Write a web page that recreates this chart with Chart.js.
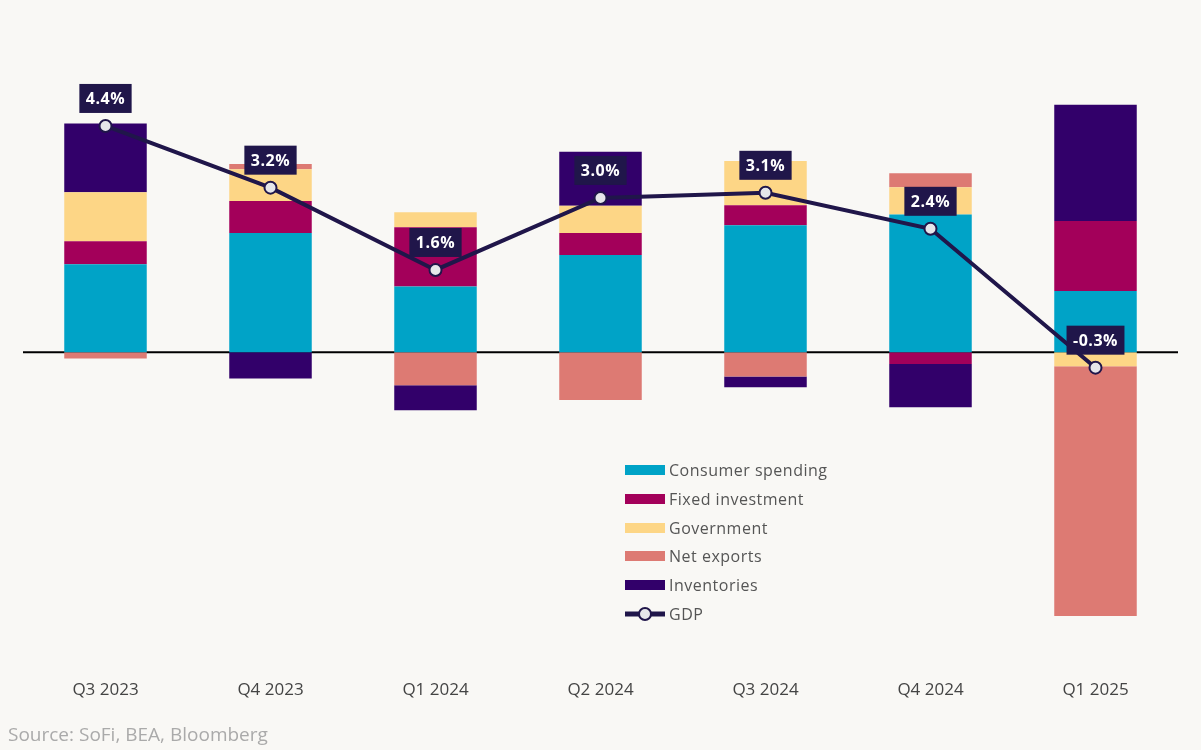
<!DOCTYPE html>
<html>
<head>
<meta charset="utf-8">
<script src="https://cdn.jsdelivr.net/npm/chart.js@4.4.1/dist/chart.umd.min.js"></script>
<style>
  body { margin: 0; background: #f9f8f5; font-family: "Open Sans", sans-serif; }
  #wrap { position: relative; width: 1201px; height: 750px; }
  #legend { position: absolute; left: 625px; top: 456px; font-size: 16px; color: #555; letter-spacing: 0.5px; }
  #legend div { height: 28.7px; display: flex; align-items: center; }
  #legend .box { width: 40px; height: 10px; margin-right: 4px; }
  #source { position: absolute; left: 8px; top: 721px; font-size: 19px; color: #aaa; }
</style>
</head>
<body>
<div id="wrap">
  <canvas id="myChart" width="1201" height="750"></canvas>
  <div id="legend"></div>
  <div id="source">Source: SoFi, BEA, Bloomberg</div>
</div>
<script>
const quarters = ['Q3 2023', 'Q4 2023', 'Q1 2024', 'Q2 2024', 'Q3 2024', 'Q4 2024', 'Q1 2025']
const consumer = [1.71, 2.32, 1.28, 1.89, 2.47, 2.68, 1.19]
const fixedInv = [0.45, 0.62, 1.15, 0.43, 0.39, -0.23, 1.36]
const government = [0.95, 0.62, 0.29, 0.53, 0.86, 0.53, -0.27]
const netExports = [-0.12, 0.10, -0.64, -0.93, -0.47, 0.27, -4.86]
const inventories = [1.34, -0.51, -0.49, 1.05, -0.21, -0.84, 2.26]
const gdp = [4.4, 3.2, 1.6, 3.0, 3.1, 2.4, -0.3]

const navy = '#20164a'
const series = [
    { label: 'Consumer spending', data: consumer, color: '#00a3c7' },
    { label: 'Fixed investment', data: fixedInv, color: '#a3005a' },
    { label: 'Government', data: government, color: '#fdd686' },
    { label: 'Net exports', data: netExports, color: '#dd7a73' },
    { label: 'Inventories', data: inventories, color: '#32006a' }
]

// legend as html
const legend = document.getElementById('legend')
series.forEach(s => {
    legend.innerHTML += '<div><span class="box" style="background:' + s.color + '"></span>' + s.label + '</div>'
})
legend.innerHTML += '<div><svg width="44" height="16" style="margin-right:0"><line x1="0" y1="8" x2="40" y2="8" stroke="' + navy + '" stroke-width="5"/><circle cx="20" cy="8" r="6" fill="#e6e6ea" stroke="' + navy + '" stroke-width="2"/></svg>GDP</div>'

const zeroLine = {
    id: 'zeroLine',
    beforeDatasetsDraw(chart) {
        const { ctx, chartArea, scales } = chart
        const y = scales.y.getPixelForValue(0)
        ctx.save()
        ctx.strokeStyle = '#000'
        ctx.lineWidth = 2
        ctx.beginPath()
        ctx.moveTo(chartArea.left, y)
        ctx.lineTo(chartArea.right, y)
        ctx.stroke()
        ctx.restore()
    }
}

const gdpLabels = {
    id: 'gdpLabels',
    afterDatasetsDraw(chart) {
        const { ctx } = chart
        const meta = chart.getDatasetMeta(5)
        ctx.save()
        ctx.font = 'bold 16px "Open Sans"'
        ctx.letterSpacing = '0.5px'
        ctx.textAlign = 'center'
        ctx.textBaseline = 'middle'
        meta.data.forEach((pt, i) => {
            const txt = gdp[i].toFixed(1) + '%'
            const w = ctx.measureText(txt).width + 13
            const h = 29
            const cy = pt.y - 13 - h / 2
            ctx.fillStyle = navy
            ctx.fillRect(pt.x - w / 2, cy - h / 2, w, h)
            ctx.fillStyle = '#fff'
            ctx.fillText(txt, pt.x, cy + 1)
        })
        ctx.restore()
    }
}

const datasets = series.map(s => ({
    type: 'bar',
    label: s.label,
    data: s.data,
    backgroundColor: s.color,
    stack: 'parts',
    order: 2,
    barPercentage: 0.5,
    categoryPercentage: 1
}))
datasets.push({
    type: 'line',
    label: 'GDP',
    data: gdp,
    stack: 'gdp',
    order: 1,
    borderColor: navy,
    borderWidth: 4,
    pointRadius: 6,
    pointBorderWidth: 2,
    pointBackgroundColor: '#e6e6ea',
    pointBorderColor: navy
})

new Chart(document.getElementById('myChart'), {
    data: { labels: quarters, datasets: datasets },
    options: {
        responsive: false,
        animation: false,
        layout: { padding: { left: 23, right: 23, top: 20, bottom: 49 } },
        plugins: { legend: { display: false }, tooltip: { enabled: false } },
        scales: {
            x: {
                stacked: true,
                grid: { display: false },
                border: { display: false },
                ticks: { color: '#444', font: { family: 'Open Sans', size: 17 }, padding: 1 }
            },
            y: {
                display: false,
                stacked: true,
                min: -6.19,
                max: 6.46
            }
        }
    },
    plugins: [zeroLine, gdpLabels]
})
</script>
</body>
</html>
